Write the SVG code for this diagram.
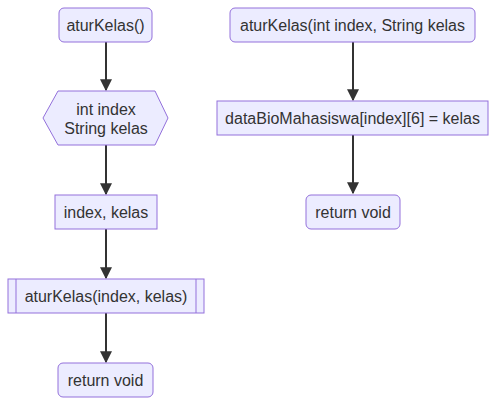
<svg xmlns="http://www.w3.org/2000/svg" width="495" height="405" viewBox="0 0 495 405">
<style>
.n{fill:#ECECFF;stroke:#9370DB;stroke-width:1}
.t{font-family:"Liberation Sans",Arial,sans-serif;font-size:16px;fill:#333;text-anchor:middle;dominant-baseline:central}
.e{stroke:#333;stroke-width:2;fill:none;marker-end:url(#arr)}
</style>
<defs>
<marker id="arr" viewBox="0 0 10 10" refX="9" refY="5" markerWidth="6" markerHeight="6" markerUnits="strokeWidth" orient="auto">
<path d="M0,0 L10,5 L0,10 z" fill="#333"/>
</marker>
</defs>
<rect width="495" height="405" fill="#fff"/>
<g id="edges">
<path class="e" d="M106,42 V90"/>
<path class="e" d="M106,145 V194"/>
<path class="e" d="M106,229 V278"/>
<path class="e" d="M106,313 V362"/>
<path class="e" d="M353,42 V100"/>
<path class="e" d="M353,135 V193"/>
</g>
<g id="start1">
<rect class="n" x="59" y="8" width="93" height="34" rx="5"/>
<text class="t" x="105.5" y="25">aturKelas()</text>
</g>
<g id="input1">
<polygon class="n" points="58,91 155,91 168,118 155,145 58,145 43,118"/>
<text class="t" x="106" y="109">int index</text>
<text class="t" x="106" y="128">String kelas</text>
</g>
<g id="params1">
<rect class="n" x="55" y="195" width="102" height="34"/>
<text class="t" x="106" y="212">index, kelas</text>
</g>
<g id="call1">
<rect class="n" x="8" y="279" width="196" height="34"/>
<line x1="16" y1="279" x2="16" y2="313" stroke="#9370DB"/>
<line x1="196" y1="279" x2="196" y2="313" stroke="#9370DB"/>
<text class="t" x="106" y="296">aturKelas(index, kelas)</text>
</g>
<g id="ret1">
<rect class="n" x="58" y="363" width="95" height="34" rx="5"/>
<text class="t" x="105.5" y="380">return void</text>
</g>
<g id="start2">
<rect class="n" x="230" y="8" width="245" height="34" rx="5"/>
<text class="t" x="352.5" y="25">aturKelas(int index, String kelas</text>
</g>
<g id="assign2">
<rect class="n" x="217" y="101" width="271" height="34"/>
<text class="t" x="352.5" y="118">dataBioMahasiswa[index][6] = kelas</text>
</g>
<g id="ret2">
<rect class="n" x="306" y="195" width="94" height="34" rx="5"/>
<text class="t" x="353" y="212">return void</text>
</g>
</svg>
